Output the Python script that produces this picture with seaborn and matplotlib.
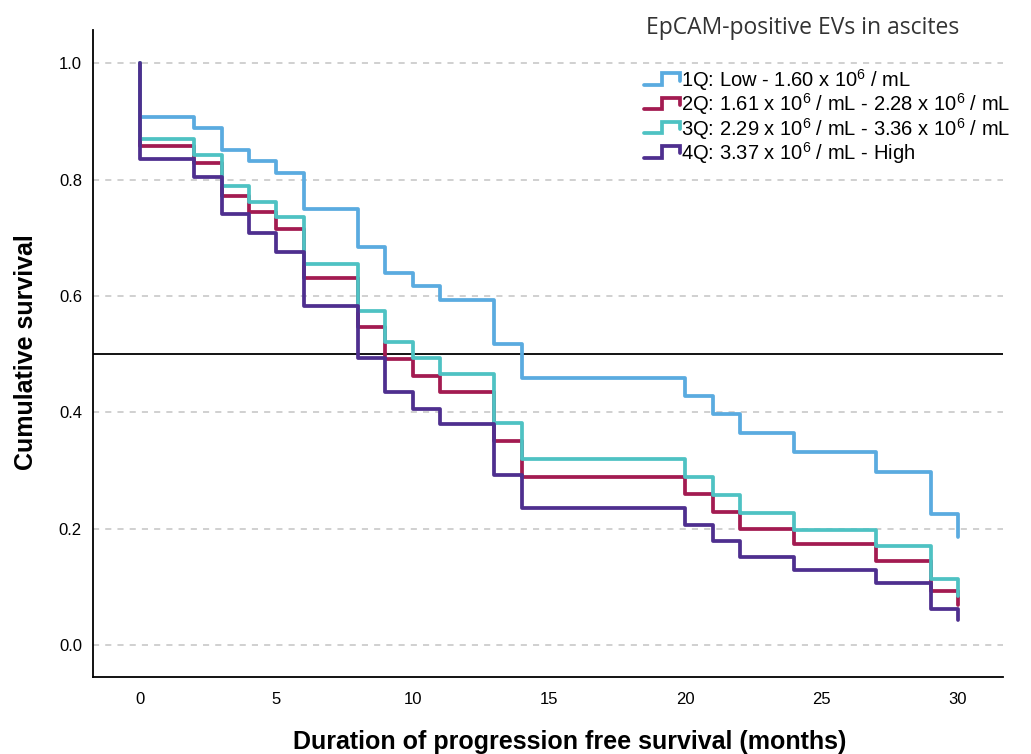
import pandas as pd
import seaborn as sns
import matplotlib.pyplot as plt
from matplotlib.lines import Line2D
from matplotlib.legend_handler import HandlerBase

# event times (months) shared by all quartile groups
times = [0, 2, 3, 4, 5, 6, 8, 9, 10, 11, 13, 14, 20, 21, 22, 24, 27, 29, 30]

surv_q1 = [0.908, 0.889, 0.851, 0.832, 0.811, 0.749, 0.684, 0.640, 0.617, 0.593,
           0.517, 0.459, 0.428, 0.397, 0.364, 0.332, 0.298, 0.225, 0.186]
surv_q2 = [0.857, 0.829, 0.772, 0.744, 0.715, 0.630, 0.546, 0.491, 0.463, 0.435,
           0.350, 0.289, 0.259, 0.229, 0.199, 0.173, 0.145, 0.093, 0.069]
surv_q3 = [0.869, 0.842, 0.789, 0.762, 0.736, 0.655, 0.574, 0.521, 0.494, 0.465,
           0.382, 0.320, 0.289, 0.258, 0.227, 0.198, 0.170, 0.113, 0.085]
surv_q4 = [0.836, 0.805, 0.740, 0.708, 0.676, 0.583, 0.494, 0.434, 0.405, 0.379,
           0.293, 0.235, 0.207, 0.179, 0.152, 0.129, 0.106, 0.062, 0.043]

groups = ["1Q: Low - 1.60 x 10$^{6}$ / mL",
          "2Q: 1.61 x 10$^{6}$ / mL - 2.28 x 10$^{6}$ / mL",
          "3Q: 2.29 x 10$^{6}$ / mL - 3.36 x 10$^{6}$ / mL",
          "4Q: 3.37 x 10$^{6}$ / mL - High"]
colors = ["#5AABE0", "#A31B51", "#4EC2C3", "#4E2F8F"]

x_ticks = [0, 5, 10, 15, 20, 25, 30]
y_ticks = [0.0, 0.2, 0.4, 0.6, 0.8, 1.0]

rows = []
for g, s in zip(groups, [surv_q1, surv_q2, surv_q3, surv_q4]):
    rows.append((g, 0, 1.0))
    for t, v in zip(times, s):
        rows.append((g, t, v))
df = pd.DataFrame(rows, columns=["group", "time", "survival"])

sns.set_style("white")
plt.rcParams['font.family'] = ['Liberation Sans', 'DejaVu Sans']
plt.rcParams['mathtext.fontset'] = 'custom'
plt.rcParams['mathtext.rm'] = 'Liberation Sans'
plt.rcParams['mathtext.it'] = 'Liberation Sans'
plt.rcParams['text.color'] = 'black'
plt.rcParams['axes.labelcolor'] = 'black'
plt.rcParams['xtick.color'] = 'black'
plt.rcParams['ytick.color'] = 'black'

fig = plt.figure(figsize=(10.31, 7.54), dpi=100)
ax = fig.add_axes([93 / 1031, 1 - 677 / 754, (1003 - 93) / 1031, (677 - 30) / 754])

for y in y_ticks:
    ax.axhline(y, color="#c4c4c4", lw=1.1, ls=(0, (4, 4)), zorder=0)
ax.axhline(0.5, color="black", lw=1.3, zorder=1)

sns.lineplot(data=df, x="time", y="survival", hue="group", hue_order=groups,
             palette=colors, estimator=None, sort=False, drawstyle="steps-post",
             lw=2.7, legend=False, ax=ax, zorder=3)

ax.set_xlim(-1.72, 31.65)
ax.set_ylim(-0.055, 1.057)
ax.set_xticks(x_ticks)
ax.set_yticks(y_ticks)
ax.set_yticklabels([f"{v:.1f}" for v in y_ticks])
ax.tick_params(length=0, labelsize=12, pad=8)
ax.tick_params(axis='x', pad=11)
for side in ["top", "right"]:
    ax.spines[side].set_visible(False)
for side in ["left", "bottom"]:
    ax.spines[side].set_color("black")
    ax.spines[side].set_linewidth(1.3)

ax.set_xlabel("Duration of progression free survival (months)", fontsize=18,
              fontweight="bold", va="baseline")
ax.xaxis.set_label_coords(0.524, -0.111)
ax.set_ylabel("Cumulative survival", fontsize=18, fontweight="bold", va="center")
ax.yaxis.set_label_coords(-0.074, 0.502)


class StepHandler(HandlerBase):
    def create_artists(self, legend, orig_handle, xdescent, ydescent,
                       width, height, fontsize, trans):
        w, h = width, height
        xs = [0, 0.5 * w, 0.5 * w, w, w]
        ys = [0.15 * h, 0.15 * h, 0.95 * h, 0.95 * h, 0.45 * h]
        line = Line2D(xs, ys, color=orig_handle.get_color(), lw=2.7,
                      solid_joinstyle="miter")
        line.set_transform(trans)
        return [line]


handles = [Line2D([], [], color=c) for c in colors]
ax.legend(handles, groups, handler_map={Line2D: StepHandler()},
          loc="upper left", bbox_to_anchor=(0.597, 0.955), frameon=False,
          fontsize=14.5, handlelength=1.75, handletextpad=0.05,
          labelspacing=-0.08, borderaxespad=0)

fig.text(0.627, 0.963, "EpCAM-positive EVs in ascites", fontsize=16.5,
         family=["Open Sans", "DejaVu Sans"], color="#333333", va="center")

fig.savefig("out.png", dpi=100)
